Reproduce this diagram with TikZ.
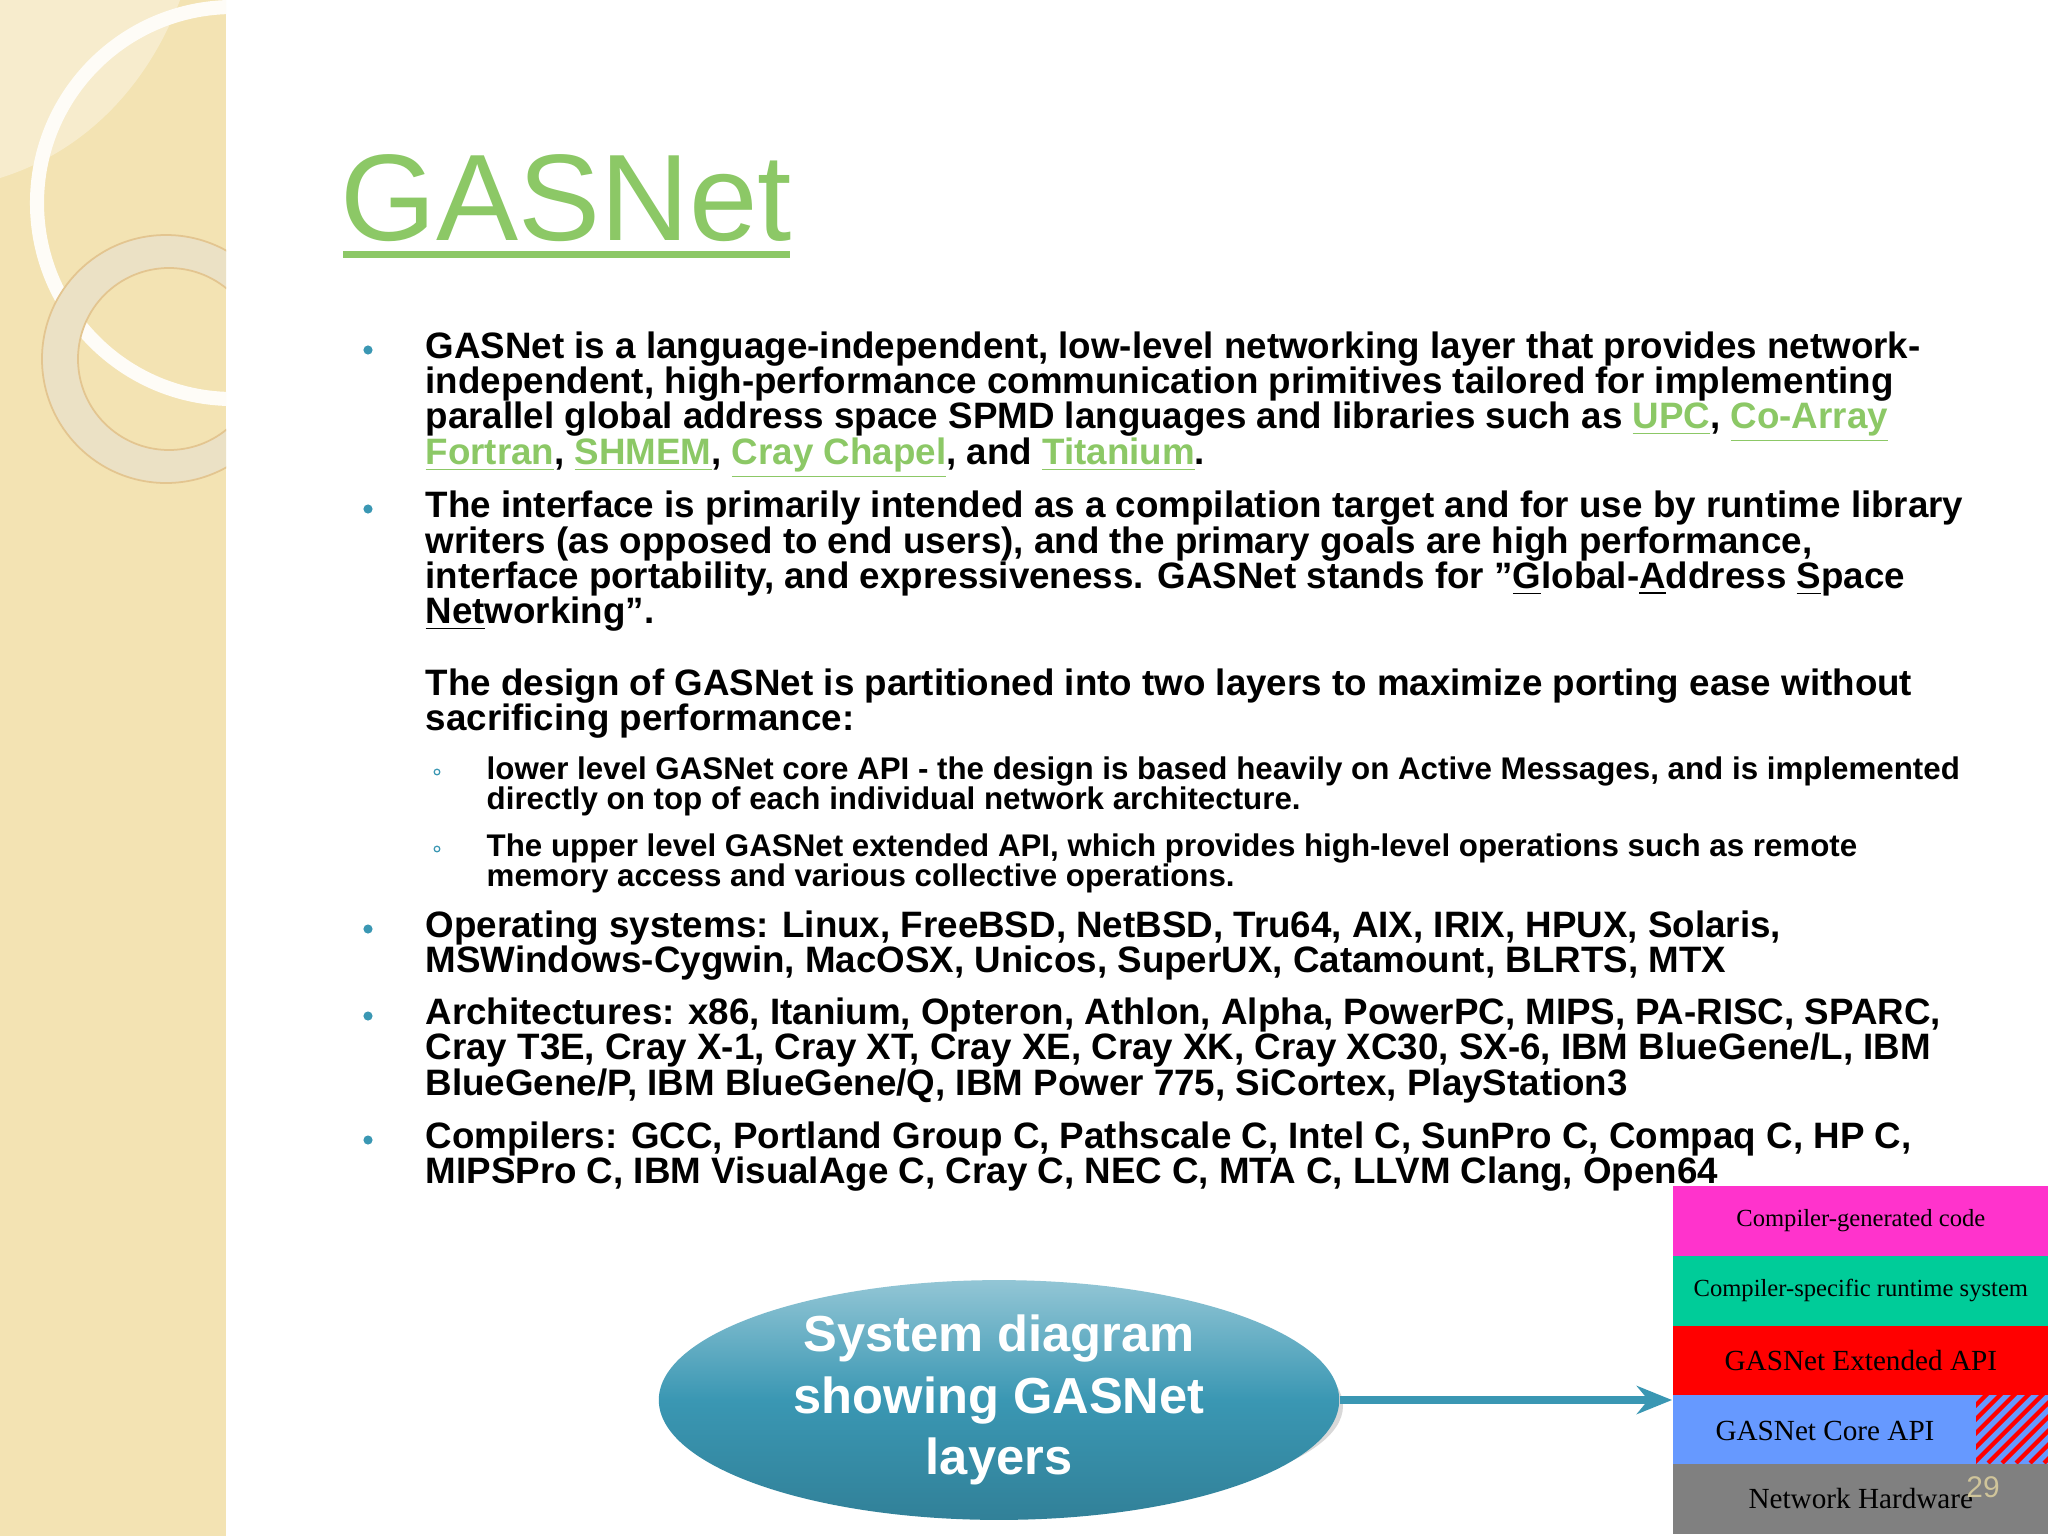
\documentclass[tikz,border=0pt]{standalone}
\usepackage{fontspec}
\setmainfont{Liberation Sans}
\newfontfamily\serifx{Liberation Serif}
\usetikzlibrary{shapes.geometric,arrows.meta}
\definecolor{strip}{HTML}{F3E3B3}
\definecolor{ttl}{HTML}{8CC866}
\definecolor{teal}{HTML}{3A97B3}
\definecolor{lpink}{HTML}{FF33CC}
\definecolor{lgreen}{HTML}{00CC99}
\definecolor{lblue}{HTML}{6699FF}
\definecolor{lgray}{HTML}{808080}
\definecolor{pgc}{HTML}{CFC49A}
\newcommand{\lnk}[1]{\textcolor{ttl}{\underline{#1}}}
\tikzset{
 mainln/.style={anchor=base west,inner sep=0pt,font=\fontsize{10.45}{10.45}\selectfont\bfseries},
 subln/.style={anchor=base west,inner sep=0pt,font=\fontsize{8.9}{8.9}\selectfont\bfseries},
 layer/.style={anchor=north west,inner sep=0pt,minimum width=3.76cm,text=black},
}
\begin{document}
\begin{tikzpicture}[x=0.01cm,y=-0.01cm]
\useasboundingbox (0,0) rectangle (2048,1536);
\fill[white] (0,0) rectangle (2048,1536);
% left strip
\fill[strip] (0,0) rectangle (226,1536);
\begin{scope}
\clip (0,0) rectangle (226,1536);
\fill[white,opacity=0.35] (0,0) -- (180,0) .. controls (150,80) and (90,150) .. (0,178) -- cycle;
\draw[white!90!strip,line width=4pt] (233,203) circle (196);
\fill[even odd rule,fill=white!75!gray!40!strip] (166,359) circle (124) (169,359) circle (91);
\draw[strip!70!brown,line width=0.5pt] (166,359) circle (124) (169,359) circle (91);
\end{scope}
% title
\node[anchor=base west,inner sep=0pt,text=ttl,font=\fontsize{35}{35}\selectfont] (title) at (340,240) {GASNet};
\fill[ttl] (343,251) rectangle (790,258);
% bullets
\foreach \y [count=\i] in {350,509,929,1016,1140} \node[circle,fill=teal,inner sep=0pt,minimum size=2.6pt] (b\i) at (368,\y) {};
\foreach \y [count=\i] in {772,849} \node[circle,draw=teal,inner sep=0pt,minimum size=1.6pt,line width=0.35pt] (s\i) at (437,\y) {};
\node[mainln] (l1) at (425,358) {GASNet is a language-independent, low-level networking layer that provides network-};
\node[mainln] (l2) at (425,393) {independent, high-performance communication primitives tailored for implementing};
\node[mainln] (l3) at (425,428) {parallel global address space SPMD languages and libraries such as \lnk{UPC}, \lnk{Co-Array}};
\node[mainln] (l4) at (425,464) {\lnk{Fortran}, \lnk{SHMEM}, \lnk{Cray Chapel}, and \lnk{Titanium}.};
\node[mainln] (l5) at (425,517) {The interface is primarily intended as a compilation target and for use by runtime library};
\node[mainln] (l6) at (425,553) {writers (as opposed to end users), and the primary goals are high performance,};
\node[mainln] (l7) at (425,588) {interface portability, and expressiveness. GASNet stands for \char34\underline{G}lobal-\underline{A}ddress \underline{S}pace};
\node[mainln] (l8) at (425,623) {\underline{Net}working\char34.};
\node[mainln] (l9) at (425,695) {The design of GASNet is partitioned into two layers to maximize porting ease without};
\node[mainln] (l10) at (425,730) {sacrificing performance:};
\node[subln] (l11) at (486,779) {lower level GASNet core API - the design is based heavily on Active Messages, and is implemented};
\node[subln] (l12) at (486,809) {directly on top of each individual network architecture.};
\node[subln] (l13) at (486,856) {The upper level GASNet extended API, which provides high-level operations such as remote};
\node[subln] (l14) at (486,886) {memory access and various collective operations.};
\node[mainln] (l15) at (425,937) {Operating systems: Linux, FreeBSD, NetBSD, Tru64, AIX, IRIX, HPUX, Solaris,};
\node[mainln] (l16) at (425,972) {MSWindows-Cygwin, MacOSX, Unicos, SuperUX, Catamount, BLRTS, MTX};
\node[mainln] (l17) at (425,1024) {Architectures: x86, Itanium, Opteron, Athlon, Alpha, PowerPC, MIPS, PA-RISC, SPARC,};
\node[mainln] (l18) at (425,1059) {Cray T3E, Cray X-1, Cray XT, Cray XE, Cray XK, Cray XC30, SX-6, IBM BlueGene/L, IBM};
\node[mainln] (l19) at (425,1095) {BlueGene/P, IBM BlueGene/Q, IBM Power 775, SiCortex, PlayStation3};
\node[mainln] (l20) at (425,1148) {Compilers: GCC, Portland Group C, Pathscale C, Intel C, SunPro C, Compaq C, HP C,};
\node[mainln] (l21) at (425,1183) {MIPSPro C, IBM VisualAge C, Cray C, NEC C, MTA C, LLVM Clang, Open64};
% layer stack
\node[layer,fill=lpink,minimum height=0.70cm,font=\serifx\fontsize{7}{7}\selectfont] (c1) at (1672,1185) {Compiler-generated code};
\node[layer,fill=lgreen,minimum height=0.70cm,font=\serifx\fontsize{7}{7}\selectfont] (c2) at (1672,1255) {Compiler-specific runtime system};
\node[layer,fill=red,minimum height=0.69cm,font=\serifx\fontsize{8.3}{8.3}\selectfont] (c3) at (1672,1325) {GASNet Extended API};
\node[layer,fill=lblue,minimum height=0.69cm] (c4) at (1672,1394) {};
\begin{scope}
\clip (1976,1394) rectangle (2048,1463);
\foreach \k in {-100,-86,...,100} \draw[red,line width=1.2pt] (1976+\k,1463) -- ++(90,-90);
\end{scope}
\node[anchor=center,inner sep=0pt,font=\serifx\fontsize{8.3}{8.3}\selectfont] (c4t) at (1825,1431) {GASNet Core API};
\node[layer,fill=lgray,minimum height=0.70cm,font=\serifx\fontsize{8.3}{8.3}\selectfont] (c5) at (1672,1463) {Network Hardware};
\node[anchor=base,inner sep=0pt,text=pgc,font=\fontsize{8.5}{8.5}\selectfont] (pg) at (1983,1497) {29};
% ellipse
\fill[black!30,opacity=0.5] (1003,1406) ellipse (340 and 104);
\node[ellipse,minimum width=6.8cm,minimum height=2.08cm,inner sep=0pt,top color=teal!55!white,bottom color=teal!85!black,middle color=teal,text=white,align=center,font=\fontsize{14.4}{17.4}\selectfont\bfseries] (ell) at (999,1400) {System diagram\\showing GASNet\\layers};
\draw[-{Stealth[length=10pt,width=8pt]},teal,line width=2.2pt] (ell.east) -- (c4.north west |- ell.east);
\end{tikzpicture}
\end{document}
